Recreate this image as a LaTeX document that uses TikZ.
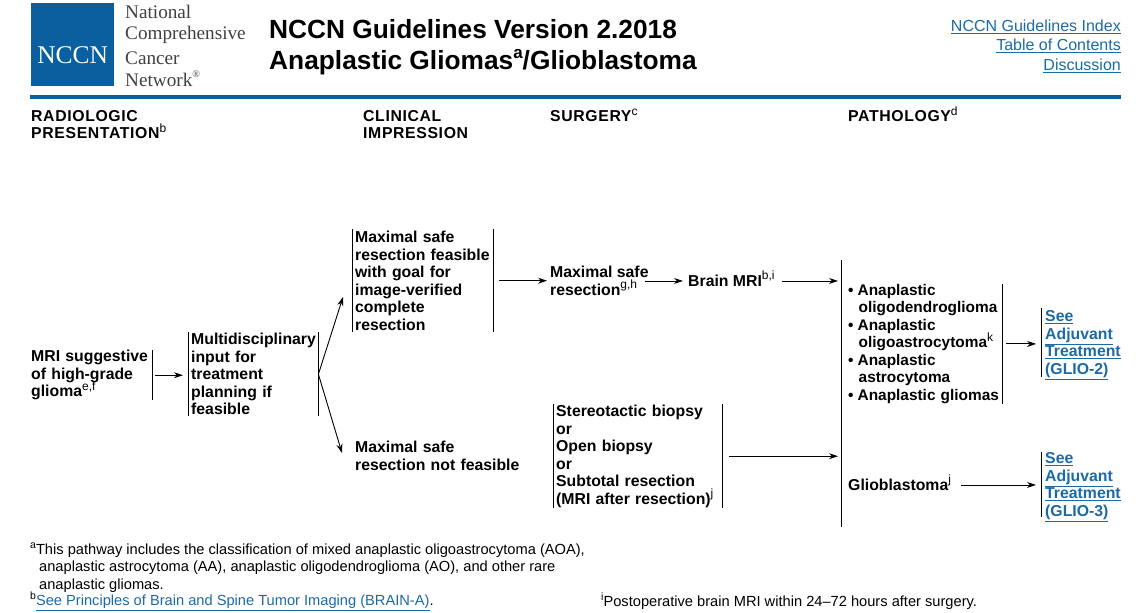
\documentclass[tikz,border=0pt]{standalone}
\usepackage{fontspec}
\setmainfont{Liberation Sans}
\newfontfamily\logofont{Liberation Serif}
\newfontfamily\headfont[LetterSpace=4]{Liberation Sans}
\usetikzlibrary{arrows.meta}
\definecolor{nccnblue}{HTML}{0A5F9E}
\definecolor{linkblue}{HTML}{1A6AA5}
\newcommand{\fn}[1]{\smash{\raisebox{0.42em}{\fontsize{12}{12}\selectfont\mdseries #1}}}
\newcommand{\lnk}[1]{\underline{#1}}
\newcommand{\ftn}[1]{\smash{\raisebox{0.4em}{\fontsize{10.5}{10.5}\selectfont #1}}}
\tikzset{
  flowbox/.style={font=\fontsize{15.8}{17.5}\selectfont\bfseries, align=left, anchor=north west,
                  inner xsep=3pt, inner ysep=0pt},
  headtext/.style={font=\headfont\fontsize{15.8}{17}\selectfont\bfseries, align=left, anchor=north west, inner sep=0pt},
  logotext/.style={font=\logofont\fontsize{19.2}{22}\selectfont, text=black!75, anchor=west, inner sep=0pt},
  titletext/.style={font=\fontsize{26.3}{32}\selectfont\bfseries, anchor=west, inner sep=0pt},
  toplink/.style={font=\fontsize{16}{18}\selectfont, text=linkblue, anchor=east, inner sep=0pt},
  seelink/.style={flowbox, text=linkblue, inner xsep=4pt},
  foottext/.style={font=\fontsize{14.65}{17.4}\selectfont, align=left, anchor=north west, inner sep=0pt},
  bar/.style={line width=1pt},
  arr/.style={line width=0.9pt, -{Stealth[length=9pt,width=6pt]}, shorten <=4pt, shorten >=4pt},
}
\begin{document}
\begin{tikzpicture}[x=1pt,y=-1pt]
    \useasboundingbox (0,0) rectangle (1138,613);

    \node[fill=nccnblue, minimum size=83pt, inner sep=0pt, anchor=north west, text=white, text height=37pt, text depth=0pt,
          font=\logofont\fontsize{25.5}{25}\selectfont] (logo) at (31,3) {NCCN};
    \node[logotext] (logoa) at (125,12) {National};
    \node[logotext] (logob) at (125,35) {Comprehensive};
    \node[logotext] (logoc) at (125,58) {Cancer};
    \node[logotext] (logod) at (125,80) {Network\smash{\raisebox{0.45em}{\fontsize{10}{10}\selectfont®}}};
    \node[titletext] (titlea) at (269,29) {NCCN Guidelines Version 2.2018};
    \node[titletext] (titleb) at (269,63) {Anaplastic Gliomas\smash{\raisebox{0.42em}{\fontsize{17}{17}\selectfont a}}/Glioblastoma};
    \node[toplink] (linka) at (1121,26.5) {\lnk{NCCN Guidelines Index}};
    \node[toplink] (linkb) at (1121,45.5) {\lnk{Table of Contents}};
    \node[toplink] (linkc) at (1121,65.5) {\lnk{Discussion}};
    \fill[nccnblue] (30,94.5) rectangle (1121,98.5);

    \node[headtext] (headradio) at (31,110.5) {RADIOLOGIC\\PRESENTATION\fn{b}};
    \node[headtext] (headclin) at (363,110.5) {CLINICAL\\IMPRESSION};
    \node[headtext] (headsurg) at (550,110.5) {SURGERY\fn{c}};
    \node[headtext] (headpath) at (848,110.5) {PATHOLOGY\fn{d}};

    \node[flowbox, text width=118pt, minimum height=50pt] (mri) at (28,350)
        {\mbox{MRI suggestive}\\of high-grade\\glioma\fn{e,f}};
    \node[flowbox, text width=124pt, minimum height=84pt] (multi) at (188,332)
        {\mbox{Multidisciplinary}\\input for\\treatment\\planning if\\feasible};
    \node[flowbox, text width=135pt, minimum height=103pt] (feasible) at (352,229)
        {Maximal safe\\\mbox{resection feasible}\\with goal for\\image-verified\\complete\\resection};
    \node[flowbox, text width=170pt, minimum height=35pt] (notfeasible) at (352,438)
        {Maximal safe\\resection not feasible};
    \node[flowbox, minimum height=35pt, inner xsep=0pt] (safe) at (550,263)
        {Maximal safe\\resection\fn{g,h}};
    \node[flowbox, inner xsep=0pt, minimum height=17.5pt] (brain) at (688,272) {Brain MRI\fn{b,i}};
    \node[flowbox, text width=163pt, minimum height=104pt] (biopsy) at (553,404)
        {Stereotactic biopsy\\or\\Open biopsy\\or\\Subtotal resection\\\mbox{(MRI after resection)\fn{j}}};
    \node[flowbox, font=\fontsize{15.4}{17.5}\selectfont\bfseries, text width=151pt, minimum height=118pt] (types) at (845,284)
        {\makebox[9.5pt][l]{•}Anaplastic\\\mbox{\hspace{10.5pt}oligodendroglioma}\\\makebox[9.5pt][l]{•}Anaplastic\\\mbox{\hspace{10.5pt}oligoastrocytoma\fn{k}}\\\makebox[9.5pt][l]{•}Anaplastic\\\hspace{10.5pt}astrocytoma\\\mbox{\makebox[9.5pt][l]{•}Anaplastic gliomas}};
    \node[flowbox, inner xsep=0pt, minimum height=17.5pt] (gbm) at (848,476) {Glioblastoma\fn{j}};
    \node[seelink] (seea) at (1041,310.5)
        {\lnk{See}\\\lnk{Adjuvant}\\\lnk{Treatment}\\\lnk{(GLIO-2)}};
    \node[seelink] (seeb) at (1041,452.5)
        {\lnk{See}\\\lnk{Adjuvant}\\\lnk{Treatment}\\\lnk{(GLIO-3)}};

    \coordinate (pathtop) at (841,260);
    \coordinate (pathbot) at (841,527);
    \coordinate (seeatop) at (1041,308);
    \coordinate (seeabot) at (1041,377);
    \coordinate (seebtop) at (1041,452);
    \coordinate (seebbot) at (1041,517);
    \coordinate (branchup) at (343,297);
    \coordinate (branchdown) at (342,453);

    \draw[bar] (mri.north east) -- (mri.south east);
    \draw[bar] (multi.north west) -- (multi.south west);
    \draw[bar] (multi.north east) -- (multi.south east);
    \draw[bar] (feasible.north west) -- (feasible.south west);
    \draw[bar] (feasible.north east) -- (feasible.south east);
    \draw[bar] (biopsy.north west) -- (biopsy.south west);
    \draw[bar] (biopsy.north east) -- (biopsy.south east);
    \draw[bar] (pathtop) -- (pathbot);
    \draw[bar] (types.north east) -- (types.south east);
    \draw[bar] (seeatop) -- (seeabot);
    \draw[bar] (seebtop) -- (seebbot);

    \draw[arr, shorten <=3pt, shorten >=5pt] (mri.east) -- (mri.east -| multi.west);
    \draw[arr, shorten <=0pt, shorten >=0pt] (multi.east) -- (branchup);
    \draw[arr, shorten <=0pt, shorten >=0pt] (multi.east) -- (branchdown);
    \draw[arr, shorten <=6pt, shorten >=3pt] (feasible.east) -- (feasible.east -| safe.west);
    \draw[arr, shorten <=-4pt, shorten >=5pt] (brain.west -| safe.east) -- (brain.west);
    \draw[arr, shorten <=7pt, shorten >=3pt] (brain.east) -- (brain.east -| pathtop);
    \draw[arr, shorten <=7pt, shorten >=3pt] (biopsy.east) -- (biopsy.east -| pathtop);
    \draw[arr, shorten >=5pt] (types.east) -- (types.east -| seeatop);
    \draw[arr, shorten <=10pt, shorten >=5pt] (gbm.east) -- (gbm.east -| seebtop);

    \node[foottext] (foota) at (30,543.5)
        {\ftn{a}This pathway includes the classification of mixed anaplastic oligoastrocytoma (AOA),\\
         \hspace{9pt}anaplastic astrocytoma (AA), anaplastic oligodendroglioma (AO), and other rare\\
         \hspace{9pt}anaplastic gliomas.};
    \node[foottext] (footb) at (30,595)
        {\ftn{b}\textcolor{linkblue}{\lnk{See Principles of Brain and Spine Tumor Imaging (BRAIN-A)}}.};
    \node[foottext] (footi) at (601,595.5)
        {\ftn{i}Postoperative brain MRI within 24--72 hours after surgery.};
\end{tikzpicture}
\end{document}
